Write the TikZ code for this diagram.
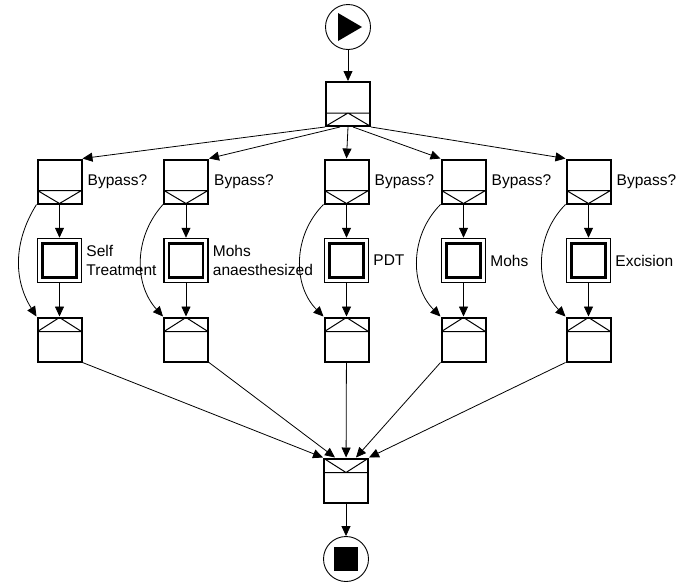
\documentclass[tikz,border=0pt]{standalone}
\usepackage{fontspec}
\setmainfont{Liberation Sans}
\usetikzlibrary{calc, positioning, arrows.meta}

\tikzset{
	flow/.style={-{Triangle[length=10pt,width=9pt]}, line width=0.8pt},
	gate/.style={draw, line width=2pt, minimum size=44pt, inner sep=0pt},
	mark line/.style={line width=1pt},
	% split with the chevron pointing up in the bottom band
	fork/.style={gate, path picture={
		\draw[mark line] ($(path picture bounding box.south west)+(0,13pt)$) -- ($(path picture bounding box.south east)+(0,13pt)$)
			(path picture bounding box.south west) -- ($(path picture bounding box.south)+(0,13pt)$) -- (path picture bounding box.south east);}},
	% decision with the chevron pointing down in the bottom band
	choice/.style={gate, path picture={
		\draw[mark line] ($(path picture bounding box.south west)+(0,13pt)$) -- ($(path picture bounding box.south east)+(0,13pt)$)
			($(path picture bounding box.south west)+(0,13pt)$) -- (path picture bounding box.south) -- ($(path picture bounding box.south east)+(0,13pt)$);}},
	% merge with the chevron pointing up in the top band
	merge/.style={gate, path picture={
		\draw[mark line] ($(path picture bounding box.north west)+(0,-14pt)$) -- ($(path picture bounding box.north east)+(0,-14pt)$)
			($(path picture bounding box.north west)+(0,-14pt)$) -- (path picture bounding box.north) -- ($(path picture bounding box.north east)+(0,-14pt)$);}},
	% join with the chevron pointing down in the top band
	sync/.style={gate, path picture={
		\draw[mark line] ($(path picture bounding box.north west)+(0,-14pt)$) -- ($(path picture bounding box.north east)+(0,-14pt)$)
			(path picture bounding box.north west) -- ($(path picture bounding box.north)+(0,-14pt)$) -- (path picture bounding box.north east);}},
	task/.style={draw, line width=1.5pt, minimum size=44pt, inner sep=0pt, path picture={
		\draw[line width=2.2pt] ($(path picture bounding box.south west)+(5pt,5pt)$) rectangle ($(path picture bounding box.north east)+(-5pt,-5pt)$);}},
	event/.style={draw, circle, line width=0.9pt, minimum size=45pt, inner sep=0pt},
	note/.style={font=\fontsize{15.5}{19}\selectfont, inner sep=0pt, align=left},
}

\begin{document}
\begin{tikzpicture}[x=1pt, y=-1pt]
	\useasboundingbox (0,0) rectangle (676,584);

	\def\ya{181.5};
	\def\yb{260.5};
	\def\yc{339.5};

	% start, fork, final join and end
	\node[event] (start) at (348,27) {};
	\fill ($(start)+(-10pt,14pt)$) -- ($(start)+(14pt,0)$) -- ($(start)+(-10pt,-14pt)$) -- cycle;
	\node[fork] (split) at (348,104) {};
	\node[sync] (join) at (346,480.5) {};
	\node[event] (stop) at (346,559) {};
	\fill ($(stop)+(-12pt,-12pt)$) rectangle ($(stop)+(12pt,12pt)$);

	% one column for each treatment
	\node[choice] (b1) at (59.5,\ya) {};
	\node[task] (t1) at (59.5,\yb) {};
	\node[merge] (m1) at (59.5,\yc) {};
	\node[choice] (b2) at (186,\ya) {};
	\node[task] (t2) at (186,\yb) {};
	\node[merge] (m2) at (186,\yc) {};
	\node[choice] (b3) at (346.5,\ya) {};
	\node[task] (t3) at (346.5,\yb) {};
	\node[merge] (m3) at (346.5,\yc) {};
	\node[choice] (b4) at (463.5,\ya) {};
	\node[task] (t4) at (463.5,\yb) {};
	\node[merge] (m4) at (463.5,\yc) {};
	\node[choice] (b5) at (588.5,\ya) {};
	\node[task] (t5) at (588.5,\yb) {};
	\node[merge] (m5) at (588.5,\yc) {};

	\node[note, right=5pt of b1] (q1) {Bypass?};
	\node[note, right=5pt of b2] (q2) {Bypass?};
	\node[note, right=5pt of b3] (q3) {Bypass?};
	\node[note, right=5pt of b4] (q4) {Bypass?};
	\node[note, right=5pt of b5] (q5) {Bypass?};
	\node[note, right=4pt of t1] (n1) {Self\\Treatment};
	\node[note, right=4pt of t2] (n2) {Mohs\\anaesthesized};
	\node[note, right=4pt of t3] (n3) {PDT};
	\node[note, right=4pt of t4] (n4) {Mohs};
	\node[note, right=4pt of t5] (n5) {Excision};

	\begin{scope}[flow]
		\draw (start) -- (split);
		\draw (split.south west) -- (b1.north east);
		\draw ($(split.south)+(-8pt,0)$) -- (b2.north east);
		\draw (split.south) -- (b3.north);
		\draw ($(split.south)+(5pt,0)$) -- (b4.north west);
		\draw (split.south east) -- (b5.north west);

		\draw (b1) -- (t1);
		\draw (t1) -- (m1);
		\draw (b1.south west) to[bend right=32] (m1.north west);
		\draw (b2) -- (t2);
		\draw (t2) -- (m2);
		\draw (b2.south west) to[bend right=42] (m2.north west);
		\draw (b3) -- (t3);
		\draw (t3) -- (m3);
		\draw (b3.south west) to[bend right=45] (m3.north west);
		\draw (b4) -- (t4);
		\draw (t4) -- (m4);
		\draw (b4.south west) to[bend right=45] (m4.north west);
		\draw (b5) -- (t5);
		\draw (t5) -- (m5);
		\draw (b5.south west) to[bend right=45] (m5.north west);

		\draw (m1.south east) -- (join.north west);
		\draw (m2.south east) -- ($(join.north)+(-11pt,0)$);
		\draw (m3) -- (join);
		\draw (m4.south west) -- ($(join.north)+(10pt,0)$);
		\draw (m5.south west) -- (join.north east);

		\draw (join) -- (stop);
	\end{scope}
\end{tikzpicture}
\end{document}
